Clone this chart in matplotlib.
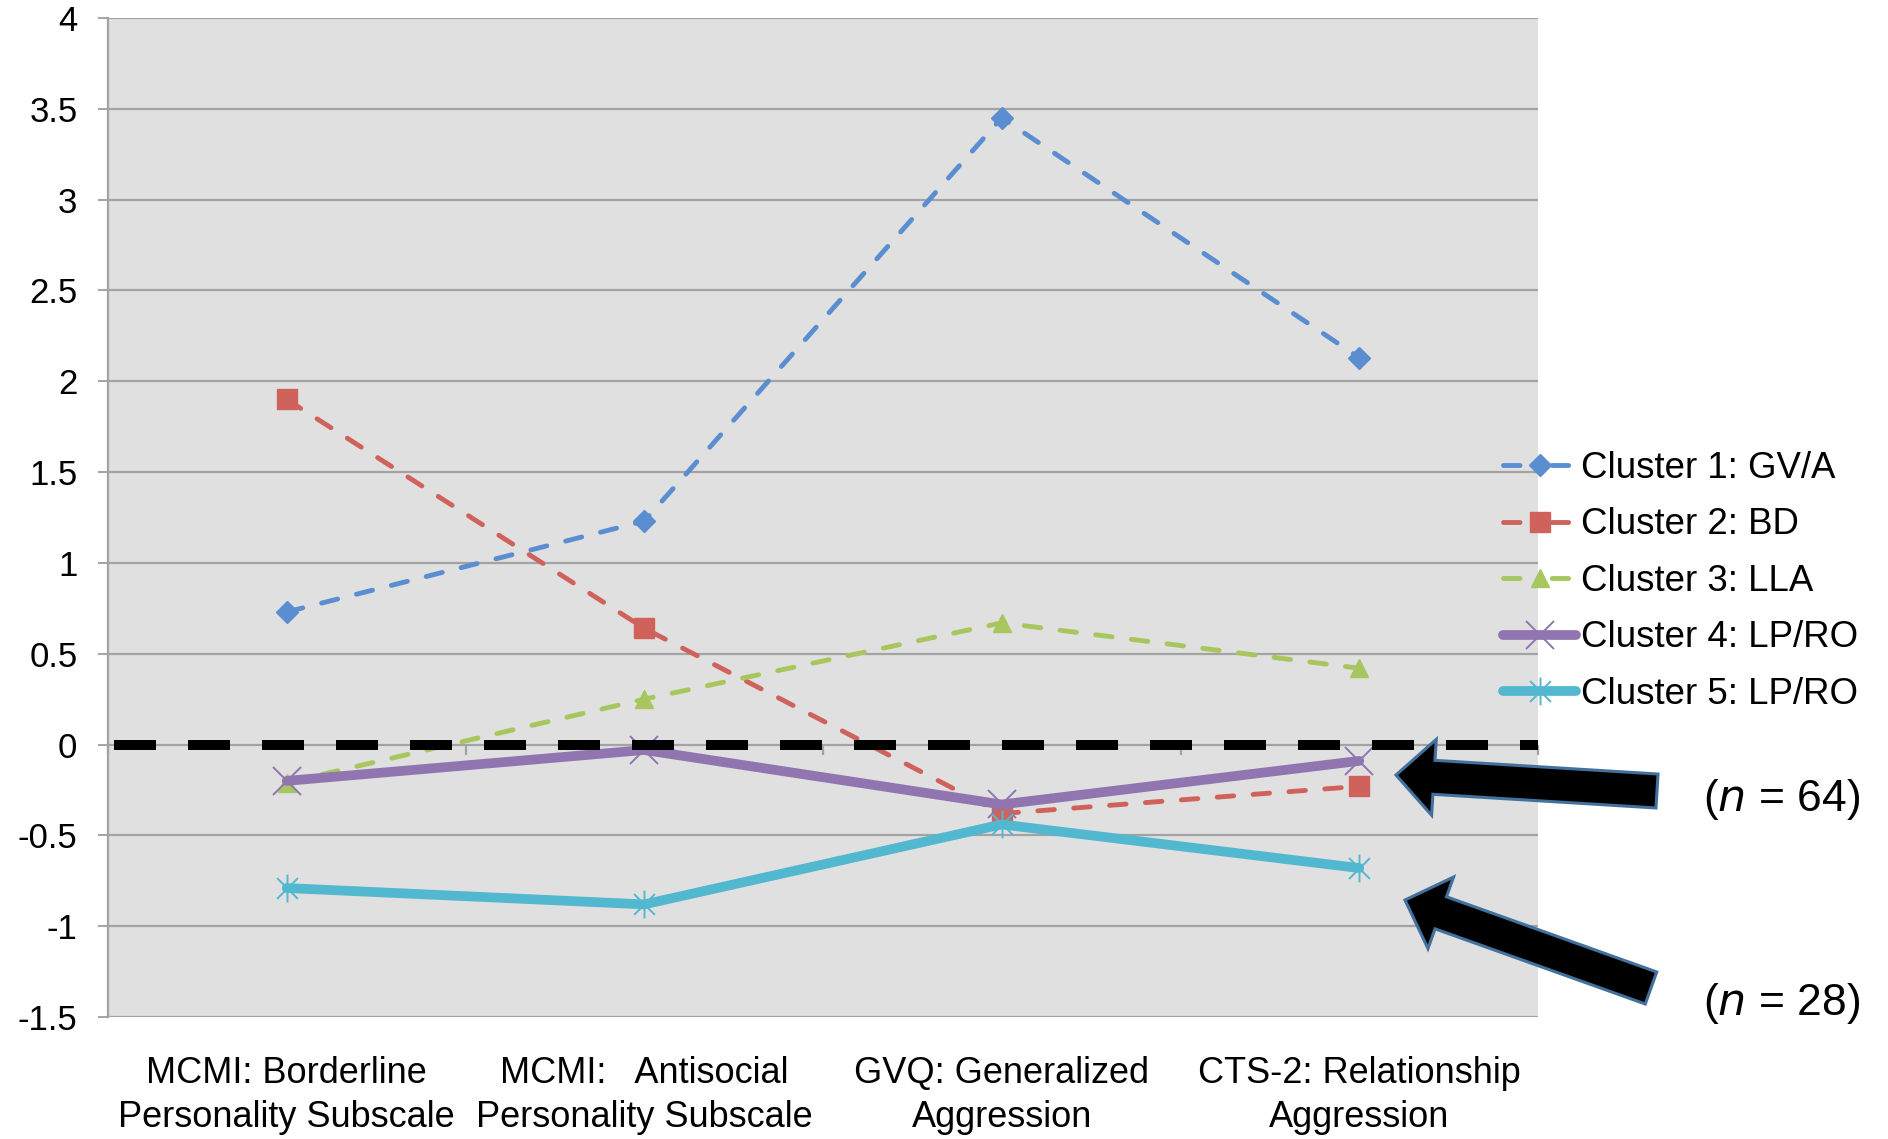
import matplotlib
matplotlib.use("Agg")
import matplotlib.pyplot as plt
from matplotlib.path import Path
from matplotlib.patches import FancyArrow
from matplotlib.lines import Line2D
from matplotlib.transforms import Affine2D

plt.rcParams['font.family'] = ['Liberation Sans', 'DejaVu Sans']

categories = ["MCMI: Borderline\nPersonality Subscale",
              "MCMI:   Antisocial\nPersonality Subscale",
              "GVQ: Generalized\nAggression",
              "CTS-2: Relationship\nAggression"]
series_names = ["Cluster 1: GV/A", "Cluster 2: BD", "Cluster 3: LLA",
                "Cluster 4: LP/RO", "Cluster 5: LP/RO"]
cluster1 = [0.73, 1.23, 3.45, 2.13]
cluster2 = [1.90, 0.64, -0.38, -0.23]
cluster3 = [-0.21, 0.25, 0.67, 0.42]
cluster4 = [-0.20, -0.03, -0.33, -0.09]
cluster5 = [-0.79, -0.88, -0.44, -0.68]
yticks = [-1.5, -1, -0.5, 0, 0.5, 1, 1.5, 2, 2.5, 3, 3.5, 4]
ytick_labels = ["-1.5", "-1", "-0.5", "0", "0.5", "1", "1.5", "2", "2.5", "3", "3.5", "4"]
n_values = ["64", "28"]

W, H = 1888, 1139
fig = plt.figure(figsize=(W / 100, H / 100), dpi=100)
ax = fig.add_axes([108 / W, 1 - 1017 / H, (1538 - 108) / W, (1017 - 18) / H])
ax.set_facecolor('#E0E0E0')
grid_c = '#A3A3A3'

x = [1, 2, 3, 4]
ax.set_xlim(0.5, 4.5)
ax.set_ylim(-1.5, 4)
ax.set_yticks(yticks)
ax.set_yticklabels(ytick_labels)
for yv in yticks:
    ax.axhline(yv, color=grid_c, lw=1.6, zorder=1)
ax.set_xticks(x)
ax.set_xticklabels(categories, fontsize=26, linespacing=1.33)
ax.tick_params(axis='x', length=0, pad=28)
ax.tick_params(axis='y', length=7, width=1.4, color=grid_c, labelsize=25, pad=15)
for s in ['top', 'right', 'bottom']:
    ax.spines[s].set_visible(False)
ax.spines['left'].set_color(grid_c)
ax.spines['left'].set_linewidth(1.6)
# category boundary tick marks on the zero axis
ax.vlines([0.5, 1.5, 2.5, 3.5, 4.5], -0.06, 0, color=grid_c, lw=1.6, zorder=1, clip_on=False)

star = Path([(0, -1), (0, 1), (-0.75, -0.75), (0.75, 0.75), (-0.75, 0.75), (0.75, -0.75)],
            [Path.MOVETO, Path.LINETO, Path.MOVETO, Path.LINETO, Path.MOVETO, Path.LINETO])

blue, red, green, purple, cyan = '#5A8ED0', '#D0625C', '#A8C65E', '#9075B0', '#52B8D0'
dash = (3.4, 4.0)
styles = [
    dict(color=blue, lw=3.5, marker='D', ms=11.5, dashes=dash, dash_capstyle='round', zorder=3),
    dict(color=red, lw=3.5, marker='s', ms=14.5, dashes=dash, dash_capstyle='round', zorder=3),
    dict(color=green, lw=3.5, marker='^', ms=13, dashes=dash, dash_capstyle='round', zorder=3),
    dict(color=purple, lw=7, marker='x', ms=20, mew=1.4, solid_capstyle='round', zorder=4),
    dict(color=cyan, lw=7, marker=star, ms=20, mew=1.4, solid_capstyle='round', zorder=4),
]
series = [cluster1, cluster2, cluster3, cluster4, cluster5]
handles = []
for vals, name, st in zip(series, series_names, styles):
    ax.plot(x, vals, label=name, **st)
    hs = dict(st)
    if 'dashes' in hs:
        hs['dashes'] = (3.4, 6.6)
    handles.append(Line2D([], [], label=name, **hs))

# zero reference line
ax.plot([0.5 + 6 * 4 / 1430, 4.5], [0, 0], color='black', lw=7.2, dashes=(4.2, 3.2),
        dash_capstyle='butt', zorder=6)

leg = fig.legend(handles=handles, loc='upper left',
                 bbox_to_anchor=(1503 / W, 1 - 451 / H), bbox_transform=fig.transFigure,
                 frameon=False, fontsize=26.4, handlelength=2.0, handletextpad=0.12,
                 labelspacing=0.585, borderpad=0, borderaxespad=0)

# arrows in pixel coordinates
pix = Affine2D().scale(1 / W, -1 / H).translate(0, 1) + fig.transFigure
arrows = [((1657, 791), (1396, 775)), ((1651, 988), (1405, 900))]
for (x0, y0), (x1, y1) in arrows:
    a = FancyArrow(x0, y0, x1 - x0, y1 - y0, width=34, head_width=76, head_length=38,
                   length_includes_head=True, facecolor='black', edgecolor='#41719C',
                   linewidth=2.2, transform=pix, zorder=10)
    fig.patches.append(a)

for num, yp in zip(n_values, [800, 1003]):
    fig.text(1782 / W, 1 - yp / H, "(" + r"$\it{n}$" + " = " + num + ")", fontsize=32,
             ha='center', va='center')

fig.savefig("out.png", dpi=100)
